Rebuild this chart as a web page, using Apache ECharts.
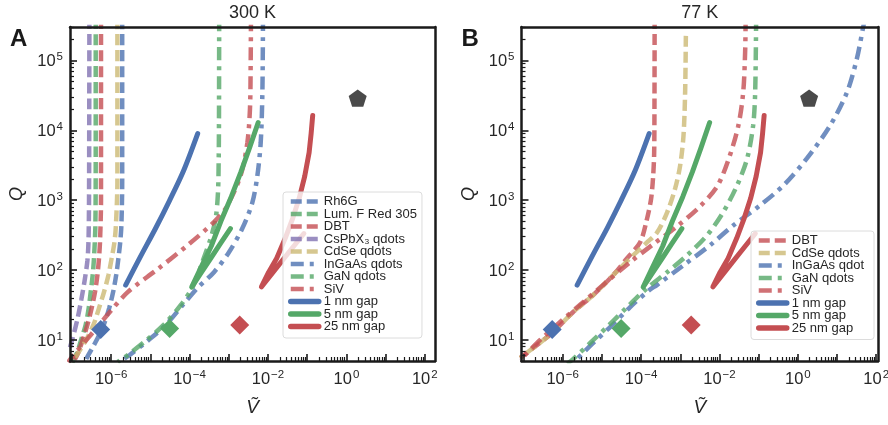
<!DOCTYPE html>
<html><head><meta charset="utf-8">
<script src="https://cdn.jsdelivr.net/npm/echarts@6/dist/echarts.min.js"></script>
<style>html,body{margin:0;padding:0;background:#fff}#c{width:888px;height:425px}</style>
</head><body><div id="c"></div>
<script>
const FONT = '"Liberation Sans", Arial, sans-serif';
const INK = '#1a1a1a', TXT = '#262626';
const COL = {blue:'#4C72B0', green:'#55A868', red:'#C44E52', purple:'#8172B2', yellow:'#CCB974', gray:'#4a4a4a'};

// ---- axis limits and ticks ----
const xMin = 8.9e-8, xMaxA = 182, xMaxB = 111, yMin = 5, yMax = 3e5;
const xMajorTicks = [1e-7,1e-6,1e-5,1e-4,1e-3,1e-2,1e-1,1,10,100];
const xLabelTicks = [1e-6,1e-4,1e-2,1,100];
const yMajorTicks = [10,100,1e3,1e4,1e5];
const yLabelTicks = [10,100,1e3,1e4,1e5];
const panelTitles = ['300 K','77 K'];
const panelLetters = ['A','B'];

// ---- Panel A (300 K) emitter curves [V, Q] ----
const a_Rh6G    = [[1.91e-6,4e5],[1.91e-6,1915],[1.82e-6,437],[1.70e-6,250],[1.53e-6,148],[1.34e-6,84.5],[1.12e-6,48.4],[8.9e-7,28.6],[6.44e-7,16.4],[4.03e-7,9.4],[2.37e-7,5.5],[2.1e-7,4.8]];
const a_LumF    = [[4.03e-7,4e5],[4.03e-7,5130],[3.95e-7,437],[3.64e-7,148],[3.37e-7,84.5],[3.0e-7,48.4],[2.67e-7,28.6],[2.23e-7,16.4],[1.77e-7,10.7],[1.37e-7,6.7],[1.1e-7,5.2],[1.0e-7,4.6]];
const a_DBT     = [[5.5e-7,4e5],[5.5e-7,990],[5.18e-7,250],[4.89e-7,148],[4.45e-7,84.5],[3.86e-7,48.4],[3.18e-7,28.6],[2.47e-7,16.4],[1.95e-7,10.7],[1.46e-7,6.7],[1.17e-7,5.2]];
const a_CsPbX3  = [[2.78e-7,4e5],[2.76e-7,2.65e4],[2.72e-7,990],[2.64e-7,267],[2.48e-7,138],[2.11e-7,71.8],[1.72e-7,37.2],[1.36e-7,19.3],[1.01e-7,10],[8.2e-8,6.7]];
const a_CdSe    = [[1.44e-6,4e5],[1.44e-6,1915],[1.32e-6,437],[1.21e-6,250],[1.03e-6,148],[8.5e-7,84.5],[6.55e-7,48.4],[4.89e-7,28.6],[3.52e-7,16.4],[2.15e-7,9.4],[1.32e-7,6.1],[9.8e-8,4.85]];
const a_InGaAs  = [[7.45e-3,4e5],[7.19e-3,34500],[6.52e-3,6680],[5.37e-3,2260],[4.0e-3,931],[2.22e-3,396],[1.01e-3,180],[4.19e-4,93.3],[1.58e-4,55.2],[6.67e-5,31.5],[2.46e-5,16.4],[9.05e-6,10],[2.96e-6,6.1],[1.65e-6,4.85]];
const a_GaN     = [[5.69e-4,4e5],[5.62e-4,13700],[5.52e-4,3700],[5.30e-4,1290],[4.63e-4,550],[3.45e-4,285],[2.29e-4,148],[1.27e-4,61],[5.93e-5,31.5],[2.18e-5,16.4],[8.05e-6,10],[2.64e-6,6.1],[1.47e-6,4.85]];
const a_SiV     = [[3.68e-3,4e5],[3.62e-3,98600],[3.47e-3,20400],[2.98e-3,6680],[2.01e-3,2260],[8.34e-4,764],[4.12e-4,482],[8.95e-5,227],[1.53e-5,103],[2.64e-6,48.4],[9.7e-7,25.9],[3.0e-7,11.8],[1.10e-7,6.1],[8.0e-8,4.8]];

// ---- Panel B (77 K) emitter curves ----
const b_DBT     = [[2.22e-4,4e5],[2.20e-4,26500],[2.16e-4,4810],[2.04e-4,2260],[1.81e-4,1062],[1.43e-4,550],[9.48e-5,250],[4.41e-5,148],[1.94e-5,84.5],[6.0e-6,43.9],[1.85e-6,25.1],[5.73e-7,13.0],[2.23e-7,8.5],[8.24e-8,5.53]];
const b_CdSe    = [[1.39e-3,2.24e5],[1.33e-3,34500],[1.21e-3,8400],[9.94e-4,3130],[7.41e-4,1472],[4.63e-4,670],[2.58e-4,347],[1.43e-4,250],[5.27e-5,148],[1.94e-5,84.5],[6.0e-6,43.9],[1.85e-6,25.1],[5.73e-7,13.0],[2.23e-7,8.5],[8.24e-8,5.53]];
const b_InGaAs  = [[52,4e5],[47.1,3.1e5],[32.0,1.05e5],[17.8,34500],[6.67,11700],[1.70,3950],[0.43,1627],[0.109,844],[2.28e-2,437],[5.79e-3,227],[1.21e-3,117],[2.53e-4,61],[1.61e-4,51.6],[5.27e-5,29.6],[1.73e-5,15.8],[5.66e-6,8.77],[1.96e-6,4.85]];
const b_GaN     = [[8.63e-2,4e5],[8.15e-2,34500],[7.24e-2,11700],[5.09e-2,3950],[2.82e-2,1627],[1.24e-2,670],[4.85e-3,315],[1.50e-3,163],[4.63e-4,93.3],[1.43e-4,55.2],[4.69e-5,30.6],[1.53e-5,16.4],[5.04e-6,9.06],[1.75e-6,5.19],[1.3e-6,4.6]];
const b_SiV     = [[4.66e-2,4e5],[4.53e-2,1.37e5],[4.03e-2,34500],[3.0e-2,11300],[1.67e-2,3700],[8.73e-3,1574],[3.22e-3,817],[8.34e-4,423],[2.04e-4,234],[5.27e-5,130],[1.21e-5,65],[3.14e-6,33.7],[8.63e-7,18.1],[2.67e-7,10],[8.24e-8,5.19]];

// ---- plasmonic gap curves (same in both panels) ----
const gap1  = [[2.34e-6,61],[5.66e-6,158],[1.36e-5,396],[3.10e-5,993],[7.06e-5,2660],[1.61e-4,8970]];
const gap5  = [[1.10e-3,392],[6.21e-4,242],[3.53e-4,150],[2.0e-4,92.5],[1.13e-4,57],[1.79e-4,98],[3.58e-4,221],[6.28e-4,499],[1.16e-3,1122],[2.04e-3,2535],[3.41e-3,5700],[5.62e-3,12900]];
const gap25 = [[8.24e-2,333],[3.62e-2,187],[1.55e-2,103],[6.79e-3,57.5],[1.04e-2,93.3],[1.67e-2,148],[2.75e-2,285],[4.27e-2,550],[6.25e-2,1062],[8.63e-2,2190],[0.112,4810],[0.126,8970],[0.138,16200]];

// ---- single points ----
const ptBlue  = [[5.4e-7,14.1]];
const ptGreen = [[3.10e-5,14.6]];
const ptRed   = [[1.90e-3,16.4]];
const ptPent  = [[1.94,28800]];

const DASH = [11,5], DASHDOT = [13,6,4,6];

function minorTicks(lo, hi){
  const out=[];
  for(let e=-9;e<=6;e++) for(let k=2;k<=9;k++){const v=k*Math.pow(10,e); if(v>=lo&&v<=hi) out.push(v);}
  return out;
}
function fmt(v){
  const e=Math.round(Math.log10(v));
  return '{b|10}{s|'+(e<0?'\u2212'+(-e):e)+'}';
}
const rich = {
  b:{fontSize:16.5,fontFamily:FONT,color:TXT,verticalAlign:'bottom'},
  s:{fontSize:11.5,fontFamily:FONT,color:TXT,verticalAlign:'bottom',padding:[0,0,7,1]}
};
const spine = {show:true,onZero:false,lineStyle:{color:INK,width:2.5}};

const xAxis=[], yAxis=[], series=[], graphic=[];
const grids=[{left:70,top:27,width:365,height:334},{left:521.5,top:27,width:356.5,height:334}];
const xMaxs=[xMaxA,xMaxB];

grids.forEach((g,p)=>{
  const xMax=xMaxs[p];
  xAxis.push({type:'log',gridIndex:p,min:xMin,max:xMax,position:'bottom',z:10,
    axisLine:spine,splitLine:{show:false},
    axisTick:{show:true,inside:true,length:7,lineStyle:{color:INK,width:1.6},customValues:xMajorTicks},
    axisLabel:{show:true,customValues:xLabelTicks,formatter:fmt,rich:rich,margin:8},
    name:'V\u0303',nameLocation:'middle',nameGap:37,
    nameTextStyle:{fontSize:19,fontStyle:'italic',fontFamily:FONT,color:TXT}});
  xAxis.push({type:'log',gridIndex:p,min:xMin,max:xMax,position:'bottom',z:10,
    axisLine:{show:false},splitLine:{show:false},
    axisTick:{show:true,inside:true,length:4,lineStyle:{color:INK,width:1.2},customValues:minorTicks(xMin,xMax)},
    axisLabel:{show:false}});
  xAxis.push({type:'log',gridIndex:p,min:xMin,max:xMax,position:'top',z:10,
    axisLine:spine,splitLine:{show:false},axisTick:{show:false},axisLabel:{show:false},
    name:panelTitles[p],nameLocation:'middle',nameGap:5,
    nameTextStyle:{fontSize:18,fontFamily:FONT,color:TXT}});
  yAxis.push({type:'log',gridIndex:p,min:yMin,max:yMax,position:'left',z:10,
    axisLine:spine,splitLine:{show:false},
    axisTick:{show:true,inside:true,length:7,lineStyle:{color:INK,width:1.6},customValues:yMajorTicks},
    axisLabel:{show:true,customValues:yLabelTicks,formatter:fmt,rich:rich,margin:7},
    name:'Q',nameLocation:'middle',nameGap:44,nameRotate:90,
    nameTextStyle:{fontSize:18,fontStyle:'italic',fontFamily:FONT,color:TXT}});
  yAxis.push({type:'log',gridIndex:p,min:yMin,max:yMax,position:'left',z:10,
    axisLine:{show:false},splitLine:{show:false},
    axisTick:{show:true,inside:true,length:4,lineStyle:{color:INK,width:1.2},customValues:minorTicks(yMin,yMax)},
    axisLabel:{show:false}});
  yAxis.push({type:'log',gridIndex:p,min:yMin,max:yMax,position:'right',z:10,
    axisLine:spine,splitLine:{show:false},axisTick:{show:false},axisLabel:{show:false}});
  graphic.push({type:'text',left:g.left-60,top:27,style:{text:panelLetters[p],fontSize:24,fontWeight:'bold',fontFamily:FONT,fill:INK}});
});

function ln(name,data,color,dash,p){
  return {type:'line',name:name,data:data,xAxisIndex:3*p,yAxisIndex:3*p,symbol:'none',showSymbol:false,
    smooth:0.3,clip:true,silent:true,animation:false,
    lineStyle:{color:color,width:4.5,type:dash,opacity:0.8,cap:'butt'},itemStyle:{color:color,opacity:0.8}};
}
function solid(name,data,color,p,sm){
  return {type:'line',name:name,data:data,xAxisIndex:3*p,yAxisIndex:3*p,symbol:'none',showSymbol:false,
    smooth:sm,clip:true,silent:true,animation:false,
    lineStyle:{color:color,width:5,type:'solid',cap:'round',join:'round'},itemStyle:{color:color}};
}
function pts(data,color,symbol,size,p){
  return {type:'scatter',name:'_pt',data:data,xAxisIndex:3*p,yAxisIndex:3*p,symbol:symbol,symbolSize:size,
    symbolKeepAspect:true,silent:true,animation:false,itemStyle:{color:color,opacity:1},z:5};
}
const PENT='path://M0,-1 L0.951,-0.309 L0.588,0.809 L-0.588,0.809 L-0.951,-0.309 Z';

// panel A
series.push(ln('Rh6G',a_Rh6G,COL.blue,DASH,0));
series.push(ln('Lum. F Red 305',a_LumF,COL.green,DASH,0));
series.push(ln('DBT',a_DBT,COL.red,DASH,0));
series.push(ln('CsPbX\u2083 qdots',a_CsPbX3,COL.purple,DASH,0));
series.push(ln('CdSe qdots',a_CdSe,COL.yellow,DASH,0));
series.push(ln('InGaAs qdots',a_InGaAs,COL.blue,DASHDOT,0));
series.push(ln('GaN qdots',a_GaN,COL.green,DASHDOT,0));
series.push(ln('SiV',a_SiV,COL.red,DASHDOT,0));
// panel B
series.push(ln('DBT',b_DBT,COL.red,DASH,1));
series.push(ln('CdSe qdots',b_CdSe,COL.yellow,DASH,1));
series.push(ln('InGaAs qdot',b_InGaAs,COL.blue,DASHDOT,1));
series.push(ln('GaN qdots',b_GaN,COL.green,DASHDOT,1));
series.push(ln('SiV',b_SiV,COL.red,DASHDOT,1));
[0,1].forEach(p=>{
  series.push(solid('1 nm gap',gap1,COL.blue,p,0.3));
  series.push(solid('5 nm gap',gap5,COL.green,p,false));
  series.push(solid('25 nm gap',gap25,COL.red,p,false));
  series.push(pts(ptBlue,COL.blue,'diamond',19,p));
  series.push(pts(ptGreen,COL.green,'diamond',19,p));
  series.push(pts(ptRed,COL.red,'diamond',19,p));
  series.push(pts(ptPent,COL.gray,PENT,18,p));
});

function legItems(names){
  return names.map(n=>{
    const isGap=/gap/.test(n);
    return {name:n,itemStyle:{opacity:0},lineStyle:isGap?{width:5.5,cap:'round'}:{width:4.5}};
  });
}
const legendBase = {orient:'vertical',itemWidth:28,itemHeight:8,itemGap:-0.5,selectedMode:false,
  itemStyle:{opacity:0},
  textStyle:{fontSize:13,fontFamily:FONT,color:TXT,lineHeight:11},
  borderColor:'#dcdcdc',borderWidth:1,borderRadius:3,backgroundColor:'rgba(255,255,255,0.8)',z:8};
const legend=[
  Object.assign({},legendBase,{left:283,top:192,padding:[3,5,5,5],
    data:legItems(['Rh6G','Lum. F Red 305','DBT','CsPbX\u2083 qdots','CdSe qdots','InGaAs qdots','GaN qdots','SiV','1 nm gap','5 nm gap','25 nm gap'])}),
  Object.assign({},legendBase,{left:751,top:231,padding:[3,10,5,5],
    data:legItems(['DBT','CdSe qdots','InGaAs qdot','GaN qdots','SiV','1 nm gap','5 nm gap','25 nm gap'])})
];

const chart=echarts.init(document.getElementById('c'),null,{renderer:'canvas'});
chart.setOption({animation:false,backgroundColor:'#fff',
  grid:grids.map(g=>Object.assign({containLabel:false,outerBoundsMode:'none'},g)),
  xAxis:xAxis,yAxis:yAxis,series:series,legend:legend,graphic:graphic});
</script></body></html>
